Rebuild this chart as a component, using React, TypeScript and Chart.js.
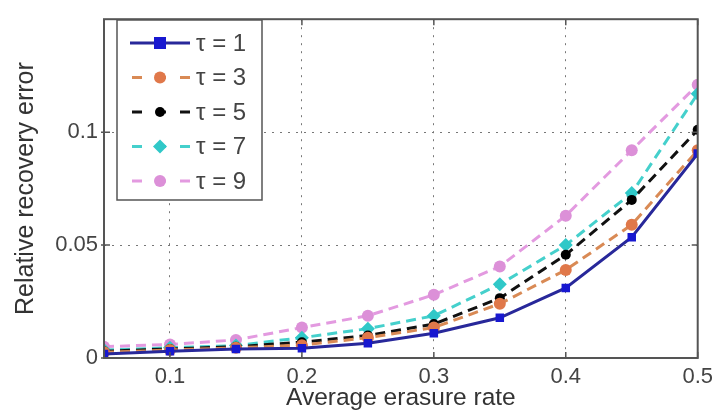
import React, { useEffect, useRef } from "react";
import { Chart, registerables } from "chart.js";

Chart.register(...registerables);

const erasureRates = [0.05, 0.1, 0.15, 0.2, 0.25, 0.3, 0.35, 0.4, 0.45, 0.5];
const tau1 = [0.0018, 0.003, 0.004, 0.0043, 0.0065, 0.011, 0.0178, 0.031, 0.0535, 0.0905];
const tau3 = [0.0025, 0.0035, 0.0045, 0.0057, 0.009, 0.0135, 0.024, 0.039, 0.059, 0.092];
const tau5 = [0.003, 0.004, 0.005, 0.007, 0.01, 0.015, 0.0265, 0.0457, 0.07, 0.101];
const tau7 = [0.0035, 0.0045, 0.0055, 0.009, 0.013, 0.0187, 0.0326, 0.05, 0.073, 0.117];
const tau9 = [0.005, 0.006, 0.008, 0.0135, 0.0187, 0.028, 0.0405, 0.063, 0.092, 0.121];
const seriesLabels = ["τ = 1", "τ = 3", "τ = 5", "τ = 7", "τ = 9"];
const xTickValues = [0.1, 0.2, 0.3, 0.4, 0.5];
const yTickValues = [0, 0.05, 0.1];
const xTitle = "Average erasure rate";
const yTitle = "Relative recovery error";

const FONT = "'Liberation Sans', Arial, sans-serif";

type Style = { line: string; fill: string; dash: number[]; shape: string; r: number };
const styles: Style[] = [
  { line: "#28289a", fill: "#1818d0", dash: [], shape: "rect", r: 6 },
  { line: "#d98a55", fill: "#e0784a", dash: [10, 6], shape: "circle", r: 6 },
  { line: "#111111", fill: "#000000", dash: [10, 6], shape: "circle", r: 5 },
  { line: "#45d0cc", fill: "#30c8c8", dash: [10, 6], shape: "rectRot", r: 7 },
  { line: "#e39ae0", fill: "#dc90d8", dash: [10, 6], shape: "circle", r: 6 },
];

function drawMarker(ctx: CanvasRenderingContext2D, shape: string, x: number, y: number, r: number, color: string) {
  ctx.save();
  ctx.setLineDash([]);
  ctx.fillStyle = color;
  ctx.beginPath();
  if (shape === "rect") {
    ctx.rect(x - r, y - r, 2 * r, 2 * r);
  } else if (shape === "rectRot") {
    ctx.moveTo(x, y - r);
    ctx.lineTo(x + r, y);
    ctx.lineTo(x, y + r);
    ctx.lineTo(x - r, y);
    ctx.closePath();
  } else {
    ctx.arc(x, y, r, 0, Math.PI * 2);
  }
  ctx.fill();
  ctx.restore();
}

const boxPlugin = {
  id: "matlabBox",
  afterDraw(chart: any) {
    const { ctx, chartArea } = chart;
    const { left, right, top, bottom } = chartArea;
    ctx.save();
    ctx.strokeStyle = "#555";
    ctx.lineWidth = 2;
    ctx.setLineDash([]);
    ctx.strokeRect(left, top, right - left, bottom - top);
    // inner tick marks
    ctx.lineWidth = 1.5;
    const xs = chart.scales.x;
    const ys = chart.scales.y;
    ctx.beginPath();
    xTickValues.forEach((v) => {
      const px = xs.getPixelForValue(v);
      ctx.moveTo(px, bottom);
      ctx.lineTo(px, bottom - 6);
      ctx.moveTo(px, top);
      ctx.lineTo(px, top + 6);
    });
    yTickValues.forEach((v) => {
      const py = ys.getPixelForValue(v);
      ctx.moveTo(left - 3, py);
      ctx.lineTo(left + 6, py);
      ctx.moveTo(right, py);
      ctx.lineTo(right - 6, py);
    });
    ctx.stroke();

    // legend
    const lx = 117, ly = 20, lw = 145, lh = 180;
    ctx.fillStyle = "#ffffff";
    ctx.fillRect(lx, ly, lw, lh);
    ctx.strokeStyle = "#555";
    ctx.lineWidth = 1.5;
    ctx.strokeRect(lx, ly, lw, lh);
    chart.data.datasets.forEach((ds: any, i: number) => {
      const st = styles[i];
      const cy = 43 + i * 34.5;
      ctx.save();
      ctx.strokeStyle = st.line;
      ctx.lineWidth = 3;
      ctx.setLineDash(st.dash.length ? [10, 14] : []);
      ctx.lineDashOffset = -2;
      ctx.beginPath();
      ctx.moveTo(130, cy);
      ctx.lineTo(190, cy);
      ctx.stroke();
      ctx.restore();
      drawMarker(ctx, st.shape, 160, cy, st.r, st.fill);
      ctx.fillStyle = "#444";
      ctx.font = `24px ${FONT}`;
      ctx.textBaseline = "middle";
      ctx.textAlign = "left";
      ctx.fillText(ds.label, 196, cy + 1);
    });
    ctx.restore();
  },
};

const allSeries = [tau1, tau3, tau5, tau7, tau9];

export default function App() {
  const ref = useRef<HTMLCanvasElement | null>(null);
  useEffect(() => {
    if (!ref.current) return;
    const datasets = allSeries.map((vals, i) => {
      const st = styles[i];
      return {
        label: seriesLabels[i],
        data: erasureRates.map((x, j) => ({ x, y: vals[j] })),
        borderColor: st.line,
        backgroundColor: st.fill,
        borderWidth: 3,
        borderDash: st.dash,
        pointStyle: st.shape,
        pointRadius: st.r,
        pointBackgroundColor: st.fill,
        pointBorderColor: st.fill,
        pointBorderWidth: 0,
        tension: 0,
        fill: false,
      };
    });
    const chart = new Chart(ref.current, {
      type: "line",
      data: { datasets },
      plugins: [boxPlugin],
      options: {
        animation: false,
        responsive: false,
        devicePixelRatio: 1,
        layout: { padding: { left: 0, right: 14, top: 14, bottom: 0 } },
        plugins: { legend: { display: false }, tooltip: { enabled: false } },
        scales: {
          x: {
            type: "linear",
            min: 0.05,
            max: 0.5,
            afterBuildTicks: (axis: any) => {
              axis.ticks = xTickValues.map((v) => ({ value: v }));
            },
            afterFit: (axis: any) => {
              axis.height = 57;
            },
            grid: { color: "#777", lineWidth: 1, drawTicks: false },
            border: { display: false, dash: [2, 6] },
            ticks: {
              color: "#444",
              font: { family: FONT, size: 22 },
              padding: 6,
              maxRotation: 0,
              callback: (v: any) => String(+Number(v).toFixed(2)),
            },
            title: {
              display: true,
              text: xTitle,
              color: "#333",
              font: { family: FONT, size: 24.5, lineHeight: 1.2 },
              padding: { top: 0, bottom: 2 },
            },
          },
          y: {
            type: "linear",
            min: 0,
            max: 0.15,
            afterBuildTicks: (axis: any) => {
              axis.ticks = yTickValues.map((v) => ({ value: v }));
            },
            afterFit: (axis: any) => {
              axis.width = 104;
            },
            grid: { color: "#777", lineWidth: 1, drawTicks: false },
            border: { display: false, dash: [2, 6] },
            ticks: {
              color: "#444",
              font: { family: FONT, size: 22 },
              padding: 6,
              callback: (v: any) => String(+Number(v).toFixed(2)),
            },
            title: {
              display: true,
              text: yTitle,
              color: "#333",
              font: { family: FONT, size: 25, lineHeight: 1.2 },
              padding: { top: 11, bottom: 0 },
            },
          },
        },
      } as any,
    });
    return () => chart.destroy();
  }, []);
  return (
    <div style={{ position: "fixed", left: 0, top: 0, width: 719, height: 415, background: "#fff" }}>
      <canvas ref={ref} width={719} height={415} style={{ width: 719, height: 415 }} />
    </div>
  );
}
